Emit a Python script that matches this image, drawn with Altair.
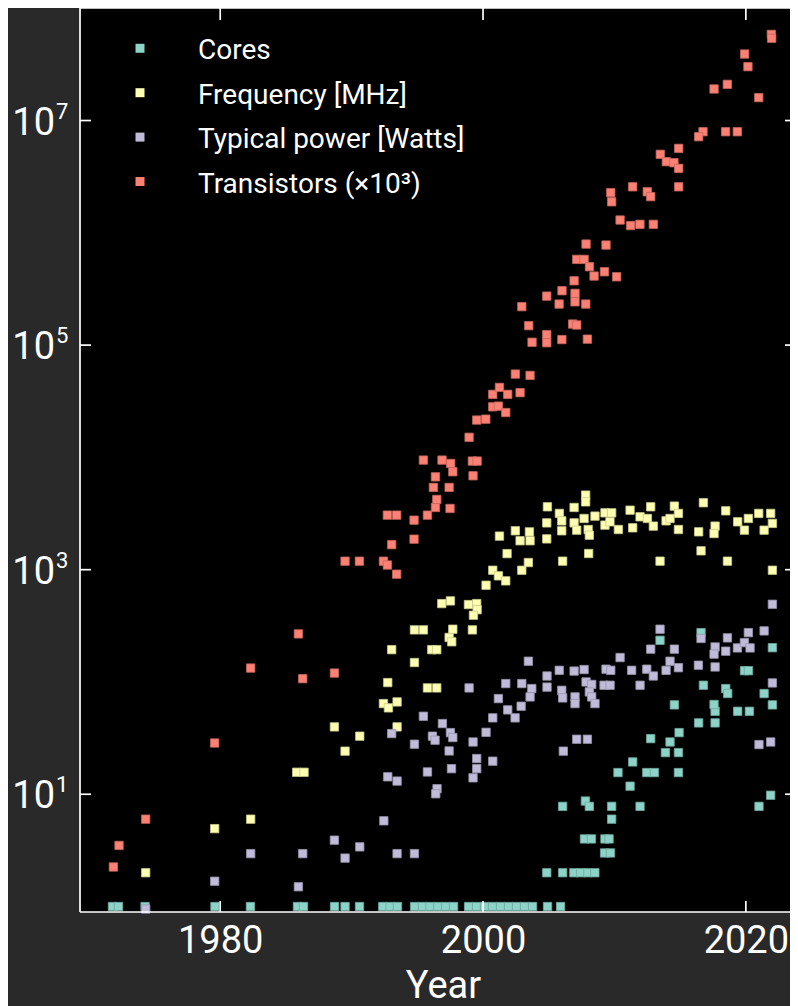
import altair as alt
import pandas as pd

series_names = ["Cores", "Frequency [MHz]", "Typical power [Watts]", "Transistors (×10³)"]
series_colors = ["#8dd3c7", "#feffb3", "#bfbbd9", "#fa8174"]
edge_colors = ["#6fa89e", "#c9ca8c", "#9794ad", "#c7665c"]
legend_rows = [0, 1, 2, 3]

cores_year = [1971.8, 1972.26, 1974.28, 1979.6, 1982.3, 1985.88, 1986.34, 1988.7, 1989.5, 1990.6,
              1992.37, 1992.93, 1993.49, 1994.79, 1995.39, 1995.97, 1996.57, 1997.16, 1997.76, 1998.9,
              1999.51, 2000.11, 2000.72, 2001.33, 2001.94, 2002.55, 2003.16, 2003.77, 2004.91, 2005.9,
              2004.85, 2006.06, 2006.91, 2007.44, 2007.98, 2008.51,
              2009.25, 2009.7,
              2007.72, 2008.25, 2009.28, 2009.59,
              2009.79,
              2006.06, 2007.79, 2008.09, 2009.79, 2011.95, 2021.0,
              2021.89, 2011.19, 2010.27, 2012.46, 2013.04, 2014.87, 2011.39, 2013.88, 2014.87, 2014.23,
              2012.76, 2014.92, 2016.41, 2017.66, 2017.66, 2019.38, 2020.27, 2017.58, 2014.56, 2022.02,
              2018.47, 2018.62, 2021.39, 2016.77, 2019.9, 2020.2, 2022.02, 2013.47, 2016.59]
cores_value = [1] * 30 + [2] * 6 + [3] * 2 + [4] * 4 + [6] + \
              [7.8, 8.7, 7.8, 7.8, 7.8, 7.8,
               9.8, 11.8, 15.6, 15.6, 15.6, 15.6, 19.4, 23.5, 23.5, 29.2,
               31.3, 35.4, 43.2, 43.2, 54.8, 54.8, 54.8, 63, 62.5, 62.5,
               87.3, 78.9, 78.9, 93.5, 126, 126, 202, 235, 275]

freq_year = [1974.33, 1979.58, 1982.32, 1985.82, 1986.38,
             1988.69, 1989.5, 1990.62, 1992.42, 1992.8, 1993.46, 1993.46, 1992.75, 1993.05, 1994.78,
             1994.78, 1995.46, 1995.77, 1996.48, 1996.1, 1996.48, 1996.86, 1997.52, 1997.7, 1997.42,
             1997.62, 1998.89, 1999.52, 1999.55, 1999.27, 1999.19, 2000.23, 2000.74, 2001.17, 2001.73,
             2002.95, 2003.45,
             2004.9, 2005.81, 2005.99, 2005.99, 2004.85, 2004.85, 2002.46, 2003.53, 2003.58, 2002.82,
             2001.25, 2001.83,
             2006.06, 2013.47, 2018.6, 2022.02, 2008.04, 2016.59, 2007.81, 2007.81, 2006.93, 2006.93,
             2007.69, 2007.13, 2008.0, 2008.09, 2008.52, 2009.28, 2009.79, 2009.28, 2009.66, 2010.3,
             2011.19, 2011.39, 2011.95, 2012.51, 2012.76, 2012.96, 2013.93, 2014.23, 2014.56, 2014.87,
             2014.87, 2016.77, 2016.41, 2017.66, 2017.58, 2018.47, 2019.38, 2020.19, 2019.89, 2020.98,
             2021.89, 2022.02, 2021.39]
freq_value = [2.0, 4.94, 6.0, 15.7, 15.7,
              39.8, 24.2, 32.9, 64.2, 58.8, 66.4, 39.8, 98.8, 194, 149,
              291, 291, 88.5, 88.5, 194, 194, 499, 527, 295, 249,
              228, 489, 499, 440, 393, 291, 727, 989, 881, 795,
              989, 1158,
              3630, 3170, 2720, 2220, 2610, 1880, 2220, 2170, 1810, 1810,
              1990, 1390,
              1191, 1191, 1191, 989, 1393, 1472, 4613, 4018, 3581, 2612,
              2858, 2249, 2279, 2028, 2999, 3208, 3208, 2494, 2669, 2279,
              3388, 2360, 2958, 2858, 3631, 2443, 2723, 2858, 3681, 3170,
              2279, 3945, 2173, 2443, 2099, 3342, 2669, 2858, 2249, 3170,
              3170, 2582, 2249]

power_year = [1974.33, 1979.58, 1982.32, 1985.95, 1986.28,
              1988.69, 1989.5, 1990.62, 1992.45, 1993.46, 1994.78, 1992.75, 1993.46, 1993.05, 1994.78,
              1995.46, 1995.77, 1996.5, 1996.4, 1996.15, 1996.35, 1996.91, 1997.52, 1997.7, 1997.42,
              1997.6, 1998.94, 1999.24, 1999.52, 1999.52, 1999.24, 2000.23, 2000.74, 2000.74, 2001.17,
              2001.73, 2001.88, 2002.44, 2002.9, 2002.95, 2003.71, 2003.58, 2003.45, 2004.87, 2004.87,
              2005.8, 2005.99, 2006.06, 2006.11, 2006.93, 2007.0, 2007.0, 2007.13, 2007.94, 2007.69,
              2007.84, 2008.27, 2008.09, 2008.27, 2008.52, 2009.21, 2009.67, 2009.36, 2009.72, 2010.43,
              2011.31, 2011.95, 2012.46, 2012.96, 2012.76, 2013.47, 2013.93, 2014.23, 2014.56, 2014.87,
              2016.39, 2016.59, 2017.66, 2017.66, 2017.58, 2018.47, 2018.6, 2019.36, 2019.89, 2020.32,
              2020.19, 2021.39, 2021.0, 2021.89, 2022.02, 2022.02]
power_value = [0.95, 1.68, 2.96, 1.5, 2.96,
               3.9, 2.7, 3.4, 5.8, 2.96, 2.96, 14.3, 13.1, 34.7, 27.9,
               49.5, 15.8, 11.2, 10.1, 32.9, 30.3, 42.6, 35.4, 32, 24.3,
               16.9, 88.5, 29.2, 20.8, 16.9, 14.0, 35.6, 47.9, 19.7, 71.1,
               96.8, 56.4, 47.9, 60.8, 96.8, 87.3, 73.6, 153, 113, 90,
               127, 84.3, 72.1, 24.2, 125, 73.6, 64.2, 30.9, 30.9, 129,
               100, 95, 81.5, 73.6, 64.2, 93.5, 93.5, 130, 127, 165,
               127, 93.5, 130, 113, 196, 295, 127, 153, 196, 134,
               141, 244, 136, 205, 177, 188, 247, 201, 224, 201,
               275, 285, 27.7, 29.2, 98, 492]

trans_year = [1971.87, 1972.3, 1974.33, 1979.58, 1982.32, 1985.95, 1986.28, 1988.69, 1989.5, 1990.59,
              1992.42, 1992.72, 1993.43, 1993.05, 1994.75, 1994.75, 1992.72, 1993.43, 1995.77, 1997.49,
              1996.38, 1996.48, 1996.22, 1997.42, 1996.38, 1999.24, 1995.46, 1996.88, 1997.54, 1997.7,
              1999.19, 1999.55, 1998.94, 1999.52, 2000.21, 2000.74, 2001.17, 2001.73, 2000.74, 2001.88,
              2002.82, 2001.25, 2002.46, 2003.58, 2002.95, 2005.79, 2003.48, 2004.85, 2004.85, 2003.73,
              2006.0, 2006.82, 2007.13, 2007.94, 2009.72, 2009.79, 2010.43, 2007.84, 2009.36, 2007.13,
              2007.69, 2008.1, 2008.45, 2009.24, 2010.17, 2006.93, 2004.85, 2006.01, 2007.0, 2007.0,
              2007.82, 2021.94, 2021.97, 2019.91, 2020.16, 2017.58, 2018.59, 2020.98, 2016.74, 2016.41,
              2018.46, 2019.35, 2014.89, 2013.49, 2013.95, 2014.53, 2014.89, 2014.89, 2011.39, 2012.5,
              2012.76, 2011.23, 2011.94, 2012.96]
trans_value = [2.25, 3.5, 6.0, 28.6, 133, 268, 107, 120, 1190, 1190,
               1190, 1100, 912, 1670, 1870, 2760, 3060, 3060, 3060, 3510,
               3580, 4220, 5400, 5400, 6710, 6860, 9460, 9460, 8830, 7450,
               9270, 9270, 15100, 21500, 21900, 28200, 28600, 25100, 36400, 36400,
               37700, 42000, 55200, 53700, 220000, 232000, 149000, 124000, 105000, 106000,
               112000, 154000, 151000, 113000, 2280000, 1890000, 1300000, 794000, 778000, 580000,
               580000, 499000, 412000, 450000, 406000, 374000, 273000, 305000, 289000, 243000,
               232000, 58500000, 54000000, 39100000, 30200000, 19100000, 21000000, 16000000, 7950000, 7180000,
               7950000, 7950000, 5650000, 5000000, 4300000, 4210000, 3750000, 2570000, 2570000, 2320000,
               2100000, 1160000, 1190000, 1190000]

x_ticks = [1980, 2000, 2020]
y_ticks = [10, 1000, 100000, 10000000]
y_exponents = ["1", "3", "5", "7"]
x_title = "Year"

rows = []
for k, (name, ys, vs) in enumerate(zip(series_names,
                                       [cores_year, freq_year, power_year, trans_year],
                                       [cores_value, freq_value, power_value, trans_value])):
    for yr, v in zip(ys, vs):
        rows.append({"series": name, "year": yr, "value": v, "order": k})
df = pd.DataFrame(rows)

W, H = 710, 904
FONT = "Roboto"
WHITE = "white"
x_scale = alt.Scale(domain=[1969.33, 2023.36], nice=False, zero=False)
y_scale = alt.Scale(type="log", domain=[0.894, 1.005e8], nice=False)
color_scale = alt.Scale(domain=series_names, range=series_colors)
x_axis = alt.Axis(values=x_ticks, format="d", labelFontSize=38, labelColor=WHITE, labelFont=FONT,
                  ticks=False, tickSize=0, domain=False, grid=False, labelPadding=10, title=None)

points = alt.Chart(df).mark_square(size=70, strokeWidth=0.8, opacity=1).encode(
    x=alt.X("year:Q", scale=x_scale, axis=x_axis),
    y=alt.Y("value:Q", scale=y_scale, axis=None),
    color=alt.Color("series:N", scale=color_scale, legend=None),
    stroke=alt.Stroke("series:N", scale=alt.Scale(domain=series_names, range=edge_colors), legend=None),
    order=alt.Order("order:Q"),
)

ydf = pd.DataFrame({"value": y_ticks, "exp": y_exponents})
xdf = pd.DataFrame({"year": x_ticks})
one = pd.DataFrame({"k": [0]})

rule = dict(color=WHITE, strokeWidth=1.7)
left_ticks = alt.Chart(ydf).mark_rule(**rule).encode(
    y=alt.Y("value:Q", scale=y_scale, axis=None), x=alt.value(0), x2=alt.value(11))
right_ticks = alt.Chart(ydf).mark_rule(**rule).encode(
    y=alt.Y("value:Q", scale=y_scale, axis=None), x=alt.value(W - 5), x2=alt.value(W))
bottom_ticks = alt.Chart(xdf).mark_rule(**rule).encode(
    x=alt.X("year:Q", scale=x_scale, axis=x_axis), y=alt.value(H - 11), y2=alt.value(H))
top_ticks = alt.Chart(xdf).mark_rule(**rule).encode(
    x=alt.X("year:Q", scale=x_scale, axis=x_axis), y=alt.value(0), y2=alt.value(12))

spine_left = alt.Chart(one).mark_rule(**rule).encode(x=alt.value(0), y=alt.value(0), y2=alt.value(H))
spine_top = alt.Chart(one).mark_rule(**rule).encode(x=alt.value(0), x2=alt.value(W), y=alt.value(0))
spine_bottom = alt.Chart(one).mark_rule(**rule).encode(x=alt.value(0), x2=alt.value(W), y=alt.value(H))

base_labels = alt.Chart(ydf).mark_text(align="right", baseline="middle", fontSize=38, font=FONT,
                                       color=WHITE, dy=3).encode(
    y=alt.Y("value:Q", scale=y_scale, axis=None), x=alt.value(-25), text=alt.value("10"))
exp_labels = alt.Chart(ydf).mark_text(align="left", baseline="middle", fontSize=22, font=FONT,
                                      color=WHITE, dy=-9).encode(
    y=alt.Y("value:Q", scale=y_scale, axis=None), x=alt.value(-24), text="exp:N")

title_text = alt.Chart(one).mark_text(align="center", baseline="alphabetic", fontSize=38, font=FONT,
                                      color=WHITE).encode(
    x=alt.value(363.5), y=alt.value(H + 86), text=alt.value(x_title))

# legend
ldf = pd.DataFrame({"series": series_names, "row": legend_rows})
row_scale = alt.Scale(domain=[0, 3], range=[40.3, 173.5])
leg_sq = alt.Chart(ldf).mark_square(size=81, opacity=1).encode(
    x=alt.value(60), y=alt.Y("row:Q", scale=row_scale, axis=None),
    color=alt.Color("series:N", scale=color_scale, legend=None))
leg_tx = alt.Chart(ldf).mark_text(align="left", baseline="middle", fontSize=28, font=FONT,
                                  color=WHITE, dy=3).encode(
    x=alt.value(118), y=alt.Y("row:Q", scale=row_scale, axis=None), text="series:N")

chart = alt.layer(points, left_ticks, right_ticks, bottom_ticks, top_ticks,
                  spine_left, spine_top, spine_bottom,
                  base_labels, exp_labels, title_text, leg_sq, leg_tx).resolve_scale(
    y="independent"
).properties(
    width=W, height=H,
    padding={"left": 72, "top": 0, "right": 0, "bottom": 94},
    autosize=alt.AutoSizeParams(type="none"),
    background="#292929",
).configure_view(fill="black", stroke=None)

chart.save("out.html", embed_options={"renderer": "svg", "actions": False})
